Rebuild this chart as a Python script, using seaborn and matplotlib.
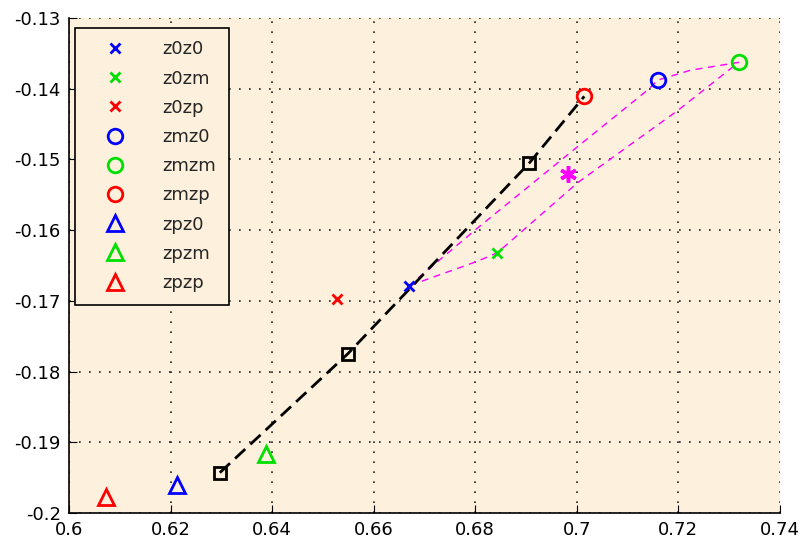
import seaborn as sns
import numpy as np
import pandas as pd
import matplotlib.pyplot as plt

# marker series (legend entries)
names = ["z0z0", "z0zm", "z0zp", "zmz0", "zmzm", "zmzp", "zpz0", "zpzm", "zpzp"]
xs = [0.6669, 0.6844, 0.6527, 0.7160, 0.7319, 0.7015, 0.6212, 0.6387, 0.6072]
ys = [-0.1679, -0.1632, -0.1697, -0.1388, -0.1363, -0.1411, -0.1960, -0.1917, -0.1977]
colors = ["blue", "#00e000", "red"] * 3
markers = ["x"] * 3 + ["o"] * 3 + ["^"] * 3

# black dashed path with square markers
path_x = [0.6297, 0.6549, 0.6907, 0.7015]
path_y = [-0.1943, -0.1775, -0.1505, -0.1411]

# magenta loop (upper branch then lower branch)
loop_x = [0.6669, 0.6805, 0.7002, 0.7140, 0.7160, 0.7225, 0.7319,
          0.7201, 0.7002, 0.6844, 0.6805, 0.6669]
loop_y = [-0.1679, -0.1597, -0.1482, -0.1402, -0.1388, -0.1374, -0.1363,
          -0.1430, -0.1533, -0.1632, -0.1644, -0.1679]

star_x = [0.6983]
star_y = [-0.1521]

sns.set_style("ticks", {"axes.facecolor": "#fdf0dc"})
plt.rcParams['font.family'] = ['DejaVu Sans']

fig = plt.figure(figsize=(8.03, 5.46), dpi=100)
ax = fig.add_axes([0.086, 0.0604, 0.885, 0.907])

sns.lineplot(x=path_x, y=path_y, sort=False, estimator=None, errorbar=None,
             color="black", linewidth=2,
             linestyle=(0, (5, 2.5)), marker="s", markersize=9,
             markerfacecolor="none", markeredgecolor="black", markeredgewidth=2,
             markevery=[0, 1, 2], ax=ax, zorder=3)
sns.lineplot(x=loop_x, y=loop_y, sort=False, estimator=None, errorbar=None,
             color="magenta", linewidth=1,
             linestyle=(0, (5, 4)), ax=ax, zorder=2)

for n, x, y, c, m in zip(names, xs, ys, colors, markers):
    size = {"x": 7.5, "o": 10.5, "^": 11}[m]
    sns.lineplot(x=[x], y=[y], color=c, linestyle="", marker=m,
                 markersize=size, markerfacecolor="none", markeredgecolor=c,
                 markeredgewidth=2, label=n, ax=ax, zorder=4)

sns.lineplot(x=star_x, y=star_y, color="magenta", linestyle="", marker=(6, 2, 0),
             markersize=12, markeredgewidth=2.5, markeredgecolor="magenta",
             ax=ax, zorder=4)

ax.set_xlim(0.6, 0.74)
ax.set_ylim(-0.2, -0.13)
ax.set_xticks(np.arange(0.6, 0.7401, 0.02))
ax.set_yticks(np.arange(-0.2, -0.1299, 0.01))
ax.set_xticklabels(["0.6", "0.62", "0.64", "0.66", "0.68", "0.7", "0.72", "0.74"])
ax.set_yticklabels(["-0.2", "-0.19", "-0.18", "-0.17", "-0.16", "-0.15", "-0.14", "-0.13"])
ax.grid(True, color="#222222", linestyle=(0, (1, 5)), linewidth=1.2)
ax.tick_params(direction="in", length=6, labelsize=13, colors="black", pad=6)
for s in ["top", "right"]:
    ax.spines[s].set_visible(False)
for s in ["left", "bottom"]:
    ax.spines[s].set_color("black")
    ax.spines[s].set_linewidth(1.2)

h, l = ax.get_legend_handles_labels()
leg = ax.legend(h[:9], l[:9], loc="upper left", bbox_to_anchor=(0.009, 0.98),
                fontsize=13, frameon=True, fancybox=False, labelspacing=0.62,
                handlelength=3.0, handletextpad=1.1, borderpad=0.7,
                borderaxespad=0)
leg.get_frame().set_edgecolor("black")
leg.get_frame().set_facecolor("#fdf0dc")
leg.get_frame().set_alpha(1)
leg.get_frame().set_linewidth(1.2)

fig.savefig("out.png", dpi=100)
